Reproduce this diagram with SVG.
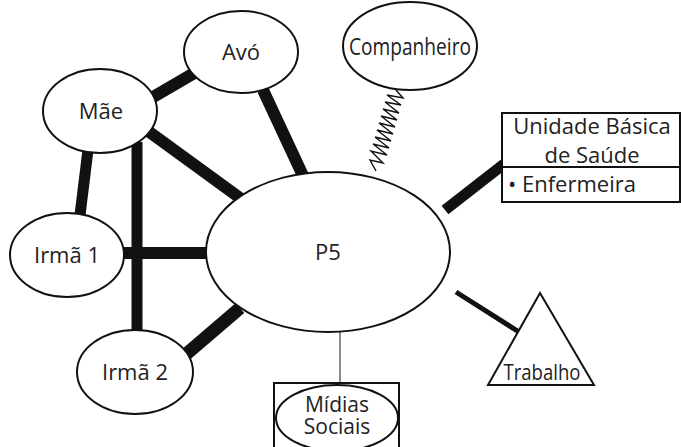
<svg xmlns="http://www.w3.org/2000/svg" width="681" height="447" viewBox="0 0 681 447">
  <style>
    .node { fill: #fff; stroke: #111; stroke-width: 2; }
    .lbl { font-family: "Open Sans", "Liberation Sans", sans-serif; font-size: 22px; fill: #222; text-anchor: middle; }
    .tie { stroke: #111; stroke-linecap: butt; fill: none; }
    .strong { stroke-width: 12; }
    .medium { stroke-width: 5; }
    .weak { stroke: #666; stroke-width: 1.5; }
  </style>
  <rect width="681" height="447" fill="#fff"/>

  <g id="connectors">
    <line class="tie strong" x1="148" y1="100" x2="196" y2="72"/>
    <line class="tie strong" x1="263" y1="90" x2="305" y2="180"/>
    <line class="tie strong" x1="148" y1="131" x2="240" y2="198"/>
    <line class="tie" stroke-width="11" x1="88" y1="150" x2="80" y2="215"/>
    <line class="tie" stroke-width="11" x1="137" y1="142" x2="137" y2="331"/>
    <line class="tie strong" x1="123" y1="253" x2="207" y2="253"/>
    <line class="tie" stroke-width="13" x1="184" y1="356" x2="240" y2="308"/>
    <line class="tie" stroke-width="11" x1="445" y1="210" x2="504" y2="164"/>
    <line class="tie medium" x1="456" y1="292" x2="519" y2="332"/>
    <line class="tie weak" x1="340" y1="332" x2="340" y2="383"/>
    <!-- spring (conflictual tie) -->
    <polyline class="tie" stroke-width="1.4" points="396,90 403,98 387,95 401,105 385,102 399,113 383,109 397,120 381,116 395,127 379,123 393,134 377,130 391,141 375,137 389,148 373,144 387,155 371,151 383,163 370,160 376,171"/>
  </g>

  <g id="p5">
    <ellipse class="node" cx="328" cy="252" rx="122" ry="80"/>
    <text class="lbl" x="328" y="260">P5</text>
  </g>

  <g id="avo">
    <ellipse class="node" cx="241" cy="52" rx="57" ry="41"/>
    <text class="lbl" x="241" y="60">Avó</text>
  </g>

  <g id="mae">
    <ellipse class="node" cx="100" cy="111" rx="57" ry="42"/>
    <text class="lbl" x="101" y="119">Mãe</text>
  </g>

  <g id="irma1">
    <ellipse class="node" cx="67" cy="255" rx="57" ry="42"/>
    <text class="lbl" x="67" y="263">Irmã 1</text>
  </g>

  <g id="irma2">
    <ellipse class="node" cx="135" cy="372" rx="58" ry="42"/>
    <text class="lbl" x="135" y="380">Irmã 2</text>
  </g>

  <g id="companheiro">
    <ellipse class="node" cx="410" cy="46" rx="67" ry="44"/>
    <text class="lbl" x="410" y="55" style="font-size:24px" textLength="122" lengthAdjust="spacingAndGlyphs">Companheiro</text>
  </g>

  <g id="unidade">
    <rect class="node" x="502" y="113" width="178" height="89"/>
    <line class="tie" stroke-width="2" x1="502" y1="167" x2="680" y2="167"/>
    <text class="lbl" x="592" y="134">Unidade Básica</text>
    <text class="lbl" x="592" y="163">de Saúde</text>
    <text class="lbl" x="508" y="192" style="text-anchor:start">• Enfermeira</text>
  </g>

  <g id="midias">
    <rect class="node" x="274" y="383" width="125" height="70"/>
    <ellipse class="node" cx="337" cy="418" rx="61" ry="33"/>
    <text class="lbl" x="337" y="412" style="font-size:21px">Mídias</text>
    <text class="lbl" x="337" y="434" style="font-size:21px">Sociais</text>
  </g>

  <g id="trabalho">
    <polygon class="node" points="540,293 594,385 488,385"/>
    <text class="lbl" x="542" y="380" style="font-size:22px" textLength="77" lengthAdjust="spacingAndGlyphs">Trabalho</text>
  </g>
</svg>
